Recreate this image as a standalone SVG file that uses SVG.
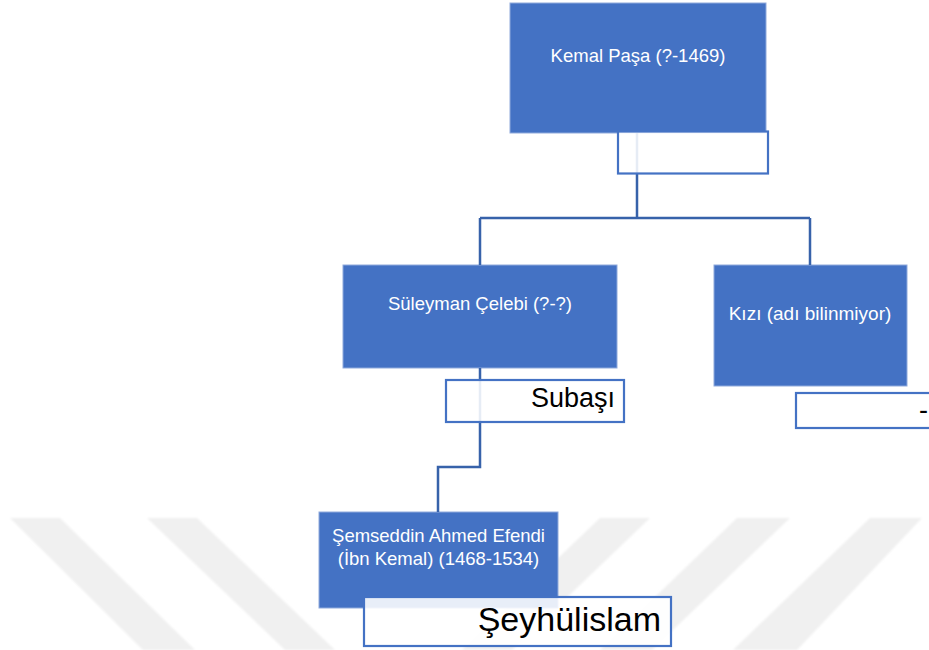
<svg xmlns="http://www.w3.org/2000/svg" width="929" height="650" viewBox="0 0 929 650">
<defs>
<style>
.wm{fill:#F0F0F0}
.node{fill:#4472C4;stroke:#8FAADC;stroke-width:1}
.sub{fill:#FFFFFF;fill-opacity:0.88;stroke:#4472C4;stroke-width:2.2}
.conn{fill:none;stroke:#3762AA;stroke-width:2.5}
.t{font-family:"Liberation Sans",Arial,sans-serif;font-size:18.5px;fill:#FFFFFF;text-anchor:middle}
.s{font-family:"Liberation Sans",Arial,sans-serif;fill:#000000;text-anchor:end}
</style>
<filter id="soft" x="-5%" y="-5%" width="110%" height="110%"><feGaussianBlur stdDeviation="1.2"/></filter>
</defs>
<rect x="0" y="0" width="929" height="650" fill="#FFFFFF"/>
<g id="watermark" filter="url(#soft)">
<polygon class="wm" points="10,518 60,518 195,650 143,650"/>
<polygon class="wm" points="147,518 197,518 335,650 285,650"/>
<polygon class="wm" points="600,518 650,518 512,650 462,650"/>
<polygon class="wm" points="737,518 790,518 652,650 600,650"/>
<polygon class="wm" points="870,518 922,518 797,650 733,650"/>
</g>
<g id="nodes-main">
<g id="node-kemal">
<rect class="node" x="510" y="3" width="256" height="130"/>
<text class="t" x="638" y="62">Kemal Paşa (?-1469)</text>
</g>
<g id="node-suleyman">
<rect class="node" x="343" y="265" width="274" height="103"/>
<text class="t" x="480" y="310">Süleyman Çelebi (?-?)</text>
</g>
<g id="node-kizi">
<rect class="node" x="714" y="265" width="193" height="121"/>
<text class="t" x="810" y="320" style="font-size:19px">Kızı (adı bilinmiyor)</text>
</g>
<g id="node-semseddin">
<rect class="node" x="319" y="512" width="239" height="96"/>
<text class="t" x="438.5" y="542">Şemseddin Ahmed Efendi</text>
<text class="t" x="438.5" y="565">(İbn Kemal) (1468-1534)</text>
</g>
</g>
<g id="connectors">
<path class="conn" d="M637,133 V218 M480,218 H810 M480,218 V265 M810,218 V265"/>
<path class="conn" d="M480,368 V467 H438 V512"/>
</g>
<g id="subs">
<g id="sub-kemal">
<rect class="sub" x="618" y="131.5" width="150" height="42"/>
</g>
<g id="sub-suleyman">
<rect class="sub" x="446" y="380" width="178" height="42"/>
<text class="s" x="615" y="407" style="font-size:27px">Subaşı</text>
</g>
<g id="sub-kizi">
<rect class="sub" x="796" y="393" width="150" height="35"/>
<text class="s" x="928" y="419" style="font-size:27px">-</text>
</g>
<g id="sub-semseddin">
<rect class="sub" x="364" y="597" width="307" height="49"/>
<text class="s" x="661" y="631" style="font-size:34px">Şeyhülislam</text>
</g>
</g>
</svg>
